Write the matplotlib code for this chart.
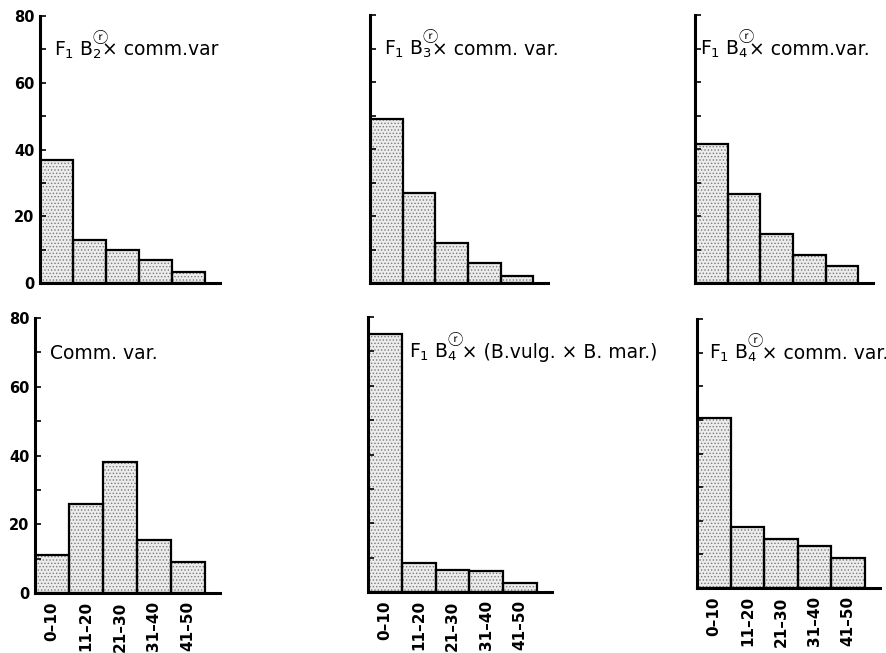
import matplotlib
matplotlib.use("Agg")
import matplotlib.pyplot as plt
import numpy as np

plt.rcParams['font.family'] = 'DejaVu Sans'
plt.rcParams['mathtext.fontset'] = 'dejavusans'
plt.rcParams['hatch.linewidth'] = 0.6

classes = ["0\u201310", "11\u201320", "21\u201330", "31\u201340", "41\u201350"]

# title pieces: text before subscript, subscript, text after (None = plain title)
tl_title = ("F$_1$ B", "2", "× comm.var")
tl_vals = [37, 13, 10, 7, 3.3]
tm_title = ("F$_1$ B", "3", "× comm. var.")
tm_vals = [49, 27, 12, 6, 2]
tr_title = ("F$_1$ B", "4", "× comm.var.")
tr_vals = [41.5, 26.5, 14.5, 8.5, 5]
bl_title = ("Comm. var.", None, "")
bl_vals = [11, 26, 38, 15.5, 9]
bm_title = ("F$_1$ B", "4", "\u2009× (B.vulg. × B. mar.)")
bm_vals = [75, 8.5, 6.5, 6, 2.5]
br_title = ("F$_1$ B", "4", "\u2009× comm. var.")
br_vals = [50.5, 18, 14.5, 12.5, 9]

# (left, bottom, width, height) in pixels of the 887x653 figure, title x offset
panels = [
    (tl_title, tl_vals, (40, 283, 180, 267), 0.42, True, False),
    (tm_title, tm_vals, (370, 283, 178, 268), 0.42, False, False),
    (tr_title, tr_vals, (695, 283, 178, 268), 0.15, False, False),
    (bl_title, bl_vals, (35, 593, 185, 275), 0.45, True, True),
    (bm_title, bm_vals, (368, 592, 184, 275), 1.2, False, True),
    (br_title, br_vals, (697, 588, 183, 269), 0.35, False, True),
]

W, H = 887, 653
fig = plt.figure(figsize=(W / 100, H / 100), dpi=100)
renderer = fig.canvas.get_renderer()
fs = 13.5


def draw_title(ax, x, y, pieces):
    pre, sub, post = pieces
    if sub is None:
        ax.text(x, y, pre, fontsize=fs, va='baseline', ha='left')
        return
    t0 = ax.text(x, y, pre, fontsize=fs, va='baseline', ha='left')
    w0 = t0.get_window_extent(renderer).width
    t0.remove()
    t1 = ax.text(x, y, pre + "$_" + sub + "$", fontsize=fs, va='baseline', ha='left')
    w1 = t1.get_window_extent(renderer).width
    k = 72 / fig.dpi
    # circled r sits above the subscript
    ax.annotate("ⓡ", (x, y), xytext=(w0 * k - 0.5, 9.0), textcoords='offset points',
                fontsize=11, family='Noto Sans CJK JP', va='baseline', ha='left')
    ax.annotate(post, (x, y), xytext=(w1 * k + 0.4, 0), textcoords='offset points',
                fontsize=fs, va='baseline', ha='left')


for title, vals, (l, b, w, h), tx, ylab, xlab in panels:
    ax = fig.add_axes([l / W, 1 - b / H, w / W, h / H])
    x = np.arange(len(vals)) + 0.5
    ax.bar(x, vals, width=1.0, facecolor='#ececec', edgecolor='#7a7a7a',
           hatch='.....', linewidth=0)
    ax.bar(x, vals, width=1.0, fill=False, edgecolor='black', linewidth=1.6)
    ax.set_xlim(0, 5.45)
    ax.set_ylim(0, 80)
    for s in ['top', 'right']:
        ax.spines[s].set_visible(False)
    for s in ['left', 'bottom']:
        ax.spines[s].set_linewidth(2.2)
    ax.set_yticks(np.arange(0, 81, 10))
    ax.tick_params(axis='y', direction='in', length=4, width=1.2, pad=4)
    if ylab:
        ax.set_yticklabels([str(v) if v % 20 == 0 else "" for v in range(0, 81, 10)],
                           fontweight='bold', fontsize=10.5)
    else:
        ax.set_yticklabels([])
    ax.set_xticks(x)
    ax.tick_params(axis='x', length=0, pad=6)
    if xlab:
        ax.set_xticklabels(classes, rotation=90, fontweight='bold', fontsize=11,
                           va='top', ha='center')
    else:
        ax.set_xticklabels([])
    draw_title(ax, tx, 68.2, title)

fig.savefig("out.png", dpi=100)
